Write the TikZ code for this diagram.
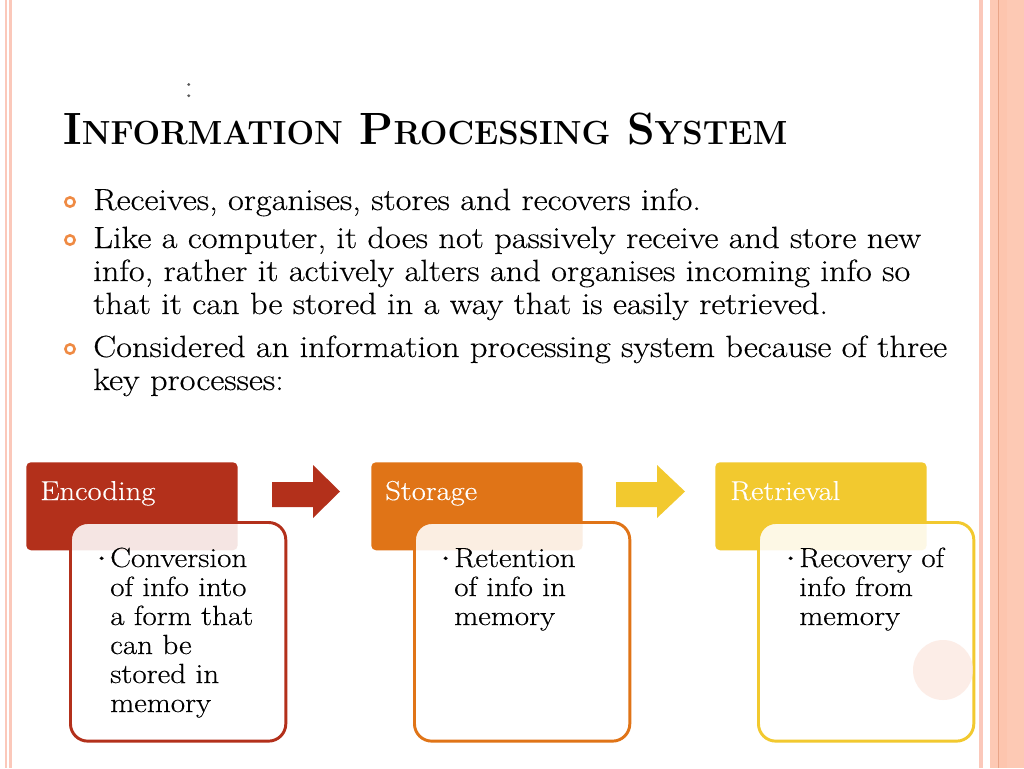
\documentclass[tikz,border=0pt]{standalone}
\usepackage{fontspec}
\setmainfont{Latin Modern Roman}[FakeStretch=1.12,FakeBold=0.35]
\newfontfamily\titlefont{Latin Modern Roman}[FakeStretch=0.977]
\definecolor{encred}{HTML}{B3301B}
\definecolor{storor}{HTML}{E07417}
\definecolor{retyel}{HTML}{F2C92F}
\definecolor{ringc}{HTML}{EF8A43}
\definecolor{stripeA}{HTML}{FBC8BA}
\definecolor{stripeB}{HTML}{FDC9B4}
\definecolor{stripeC}{HTML}{FDC5AE}
\definecolor{stripeD}{HTML}{E9A588}
\definecolor{blob}{HTML}{FCE6DD}
\newcommand{\tbig}[1]{{\fontsize{33.9}{40}\selectfont #1}}
\newcommand{\tsm}[1]{{\fontsize{25.1}{30}\selectfont #1}}
\tikzset{
  txt/.style={anchor=base west, inner sep=0pt, align=left},
  body/.style={txt, font=\fontsize{23}{24.75}\selectfont, text=black},
  boxtxt/.style={txt, font=\fontsize{20.8}{21.75}\selectfont, text=black},
  hdrtxt/.style={txt, font=\fontsize{20.5}{21.75}\selectfont, text=white},
  bul/.style={txt, font=\fontsize{9}{10}\selectfont, text=black},
  ring/.style={circle, draw=ringc, line width=1.9pt, minimum size=7pt, inner sep=0pt},
  hdr/.style={rectangle, rounded corners=3.5pt, anchor=north west, inner sep=0pt, minimum width=158.5pt, minimum height=66pt},
  cbox/.style={rectangle, rounded corners=13pt, anchor=north west, inner sep=0pt, line width=2.2pt, fill=white, fill opacity=0.88, minimum width=161.5pt, minimum height=164pt},
}
\begin{document}
\begin{tikzpicture}[x=0.75pt,y=-0.75pt]
\useasboundingbox (0,0) rectangle (1024,768);
\fill[white] (0,0) rectangle (1024,768);
% side stripes
\fill[stripeA] (5,0) rectangle (7.3,768);
\fill[stripeA] (9,0) rectangle (12,768);
\fill[stripeA] (978.5,0) rectangle (983,768);
\fill[stripeB] (990,0) rectangle (1024,768);
\fill[stripeC] (999,0) rectangle (1007,768);
\fill[stripeD] (998,0) rectangle (999,768);
% colon
\node[txt, font=\fontsize{24}{26}\selectfont, text=black!65] (colon) at (184,97) {:};
% title
\node[txt, font=\titlefont\bfseries] (title) at (63,144)
  {\tbig{I}\tsm{NFORMATION}\tbig{ P}\tsm{ROCESSING}\tbig{ S}\tsm{YSTEM}};
% bullets
\node[ring] (r1) at (70,202) {};
\node[ring] (r2) at (70,240) {};
\node[ring] (r3) at (70,349) {};
% multi-line nodes: base anchor = baseline of the last line
\node[body] (p1) at (93,210) {Receives, organises, stores and recovers info.};
\node[body] (p2) at (93,314) {Like a computer, it does not passively receive and store new\\info, rather it actively alters and organises incoming info so\\that it can be stored in a way that is easily retrieved.};
\node[body] (p3) at (93,390) {Considered an information processing system because of three\\key processes:};
% headers
\node[hdr, fill=encred] (enc) at (26,462) {};
\node[hdr, fill=storor] (sto) at (371,462) {};
\node[hdr, fill=retyel] (ret) at (715,462) {};
\node[hdrtxt] (enct) at (40,500) {Encoding};
\node[hdrtxt] (stot) at (385,500) {Storage};
\node[hdrtxt] (rett) at (730,500) {Retrieval};
% arrows
\fill[encred] (272,482) -- (313,482) -- (313,465) -- (340,491.5) -- (313,518) -- (313,507) -- (272,507) -- cycle;
\fill[retyel] (616,482) -- (657,482) -- (657,465) -- (685,491.5) -- (657,518) -- (657,507) -- (616,507) -- cycle;
% content boxes
\node[cbox, draw=encred] (encb) at (69,521) {};
\node[cbox, draw=storor] (stob) at (413,521) {};
\node[cbox, draw=retyel] (retb) at (757,521) {};
% box texts
\node[bul] (encbul) at (96,561) {•};
\node[boxtxt] (encx) at (110,712) {Conversion\\of info into\\a form that\\can be\\stored in\\memory};
\node[bul] (stobul) at (440,561) {•};
\node[boxtxt] (stox) at (454,625) {Retention\\of info in\\memory};
\node[bul] (retbul) at (785,561) {•};
\node[boxtxt] (retx) at (799,625) {Recovery of\\info from\\memory};
% decorative circle
\fill[blob, opacity=0.7] (943,670) circle (22.5pt);
\end{tikzpicture}
\end{document}
